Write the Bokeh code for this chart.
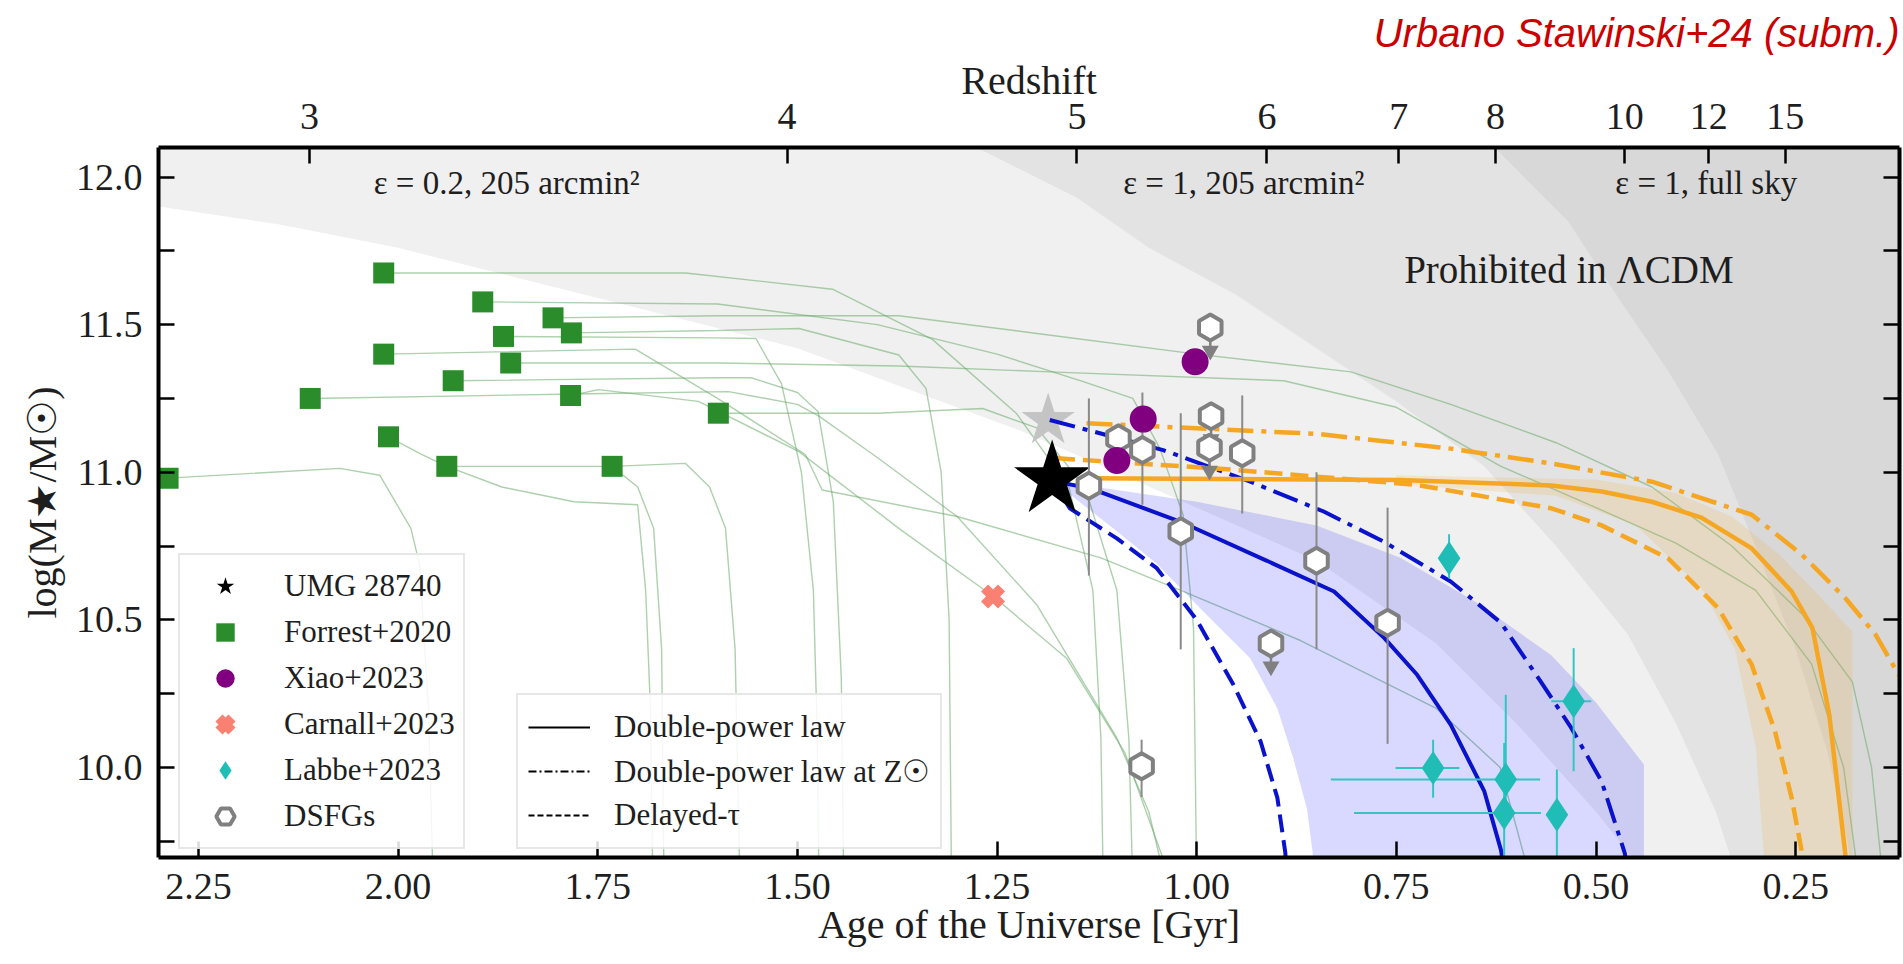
import math
from bokeh.plotting import figure
from bokeh.models import (Range1d, LinearAxis, FixedTicker, NumeralTickFormatter,
                          CustomJSTickFormatter, Legend, LegendItem, Label, Title)
from bokeh.embed import file_html
from bokeh.resources import INLINE

SERIF = "Liberation Serif"
TXT = "#1e1e1e"

# ---------------- axis / tick data ----------------
age_ticks = [2.25, 2.0, 1.75, 1.5, 1.25, 1.0, 0.75, 0.5, 0.25]
logm_ticks = [10.0, 10.5, 11.0, 11.5, 12.0]
logm_minor = [9.75, 10.25, 10.75, 11.25, 11.75]
redshift_tick_ages = [2.111, 1.513, 1.150, 0.912, 0.747, 0.626, 0.464, 0.359, 0.263]
redshift_tick_labels = ["3", "4", "5", "6", "7", "8", "10", "12", "15"]

# ---------------- "prohibited" regions (lower boundaries) ----------------
eps02_age = [2.36, 2.30, 2.15, 2.00, 1.75, 1.50, 1.33, 1.22, 1.10, 1.00, 0.85, 0.70, 0.60, 0.50, 0.45, 0.42]
eps02_logm = [11.93, 11.90, 11.84, 11.76, 11.59, 11.42, 11.25, 11.14, 11.00, 10.88, 10.70, 10.42, 10.15, 9.85, 9.68, 9.60]
eps1_age = [1.40, 1.283, 1.15, 1.06, 0.95, 0.85, 0.75, 0.64, 0.55, 0.46, 0.40, 0.35, 0.32]
eps1_logm = [12.30, 12.11, 11.93, 11.76, 11.60, 11.42, 11.24, 11.02, 10.75, 10.45, 10.15, 9.85, 9.60]
sky_age = [0.70, 0.627, 0.535, 0.472, 0.409, 0.347, 0.305, 0.25, 0.21, 0.185, 0.178]
sky_logm = [12.30, 12.10, 11.85, 11.59, 11.34, 11.06, 10.78, 10.40, 10.05, 9.75, 9.60]

# ---------------- Forrest+2020 ----------------
forrest_age = [2.288, 2.018, 2.018, 2.110, 2.012, 1.894, 1.868, 1.859, 1.931, 1.806, 1.783, 1.784, 1.939, 1.732, 1.599]
forrest_logm = [10.98, 11.675, 11.40, 11.25, 11.12, 11.577, 11.46, 11.37, 11.31, 11.523, 11.472, 11.26, 11.02, 11.02, 11.20]
forrest_track_age = [
    [2.288, 2.073, 2.023, 1.984, 1.973, 1.962, 1.956],
    [2.018, 1.64, 1.456, 1.331, 1.226, 1.16, 1.13, 1.12, 1.117],
    [2.018, 1.703, 1.60, 1.49, 1.469, 1.30, 1.12, 1.02, 0.87, 0.70, 0.62, 0.58],
    [2.110, 1.78, 1.586, 1.50, 1.473, 1.40, 1.30, 1.20, 1.10, 1.06, 1.038],
    [2.012, 1.97, 1.939, 1.87, 1.78, 1.70, 1.69, 1.684, 1.681],
    [1.894, 1.60, 1.40, 1.25, 1.142, 1.08, 1.046, 1.017, 1.004, 1.0],
    [1.868, 1.60, 1.552, 1.52, 1.495, 1.480, 1.475, 1.473],
    [1.859, 1.60, 1.373, 1.184, 0.891, 0.75, 0.619, 0.50, 0.40, 0.30, 0.23, 0.19, 0.17],
    [1.931, 1.60, 1.558, 1.50, 1.474, 1.455, 1.445, 1.442],
    [1.806, 1.60, 1.373, 1.20, 1.0, 0.807, 0.682, 0.55, 0.43, 0.33, 0.242, 0.179, 0.155, 0.14],
    [1.783, 1.60, 1.498, 1.373, 1.339, 1.32, 1.31, 1.307],
    [1.784, 1.749, 1.624, 1.498, 1.373, 1.255, 1.163, 1.09, 1.03],
    [1.939, 1.732, 1.64, 1.61, 1.59, 1.578, 1.572],
    [1.732, 1.70, 1.68, 1.670, 1.667],
    [1.599, 1.40, 1.268, 1.20, 1.14, 1.10, 1.085, 1.08],
]
forrest_track_logm = [
    [10.98, 11.013, 10.99, 10.81, 10.686, 10.2, 9.6],
    [11.675, 11.675, 11.62, 11.45, 11.20, 10.95, 10.60, 10.1, 9.6],
    [11.40, 11.417, 11.25, 11.06, 10.94, 10.85, 10.71, 10.60, 10.43, 10.20, 10.0, 9.6],
    [11.25, 11.265, 11.273, 11.23, 11.19, 11.05, 10.85, 10.55, 10.10, 9.85, 9.6],
    [11.12, 11.06, 11.02, 10.95, 10.90, 10.89, 10.6, 10.2, 9.6],
    [11.577, 11.57, 11.50, 11.40, 11.307, 11.25, 11.08, 10.855, 10.472, 9.6],
    [11.46, 11.455, 11.453, 11.30, 11.0, 10.6, 10.1, 9.6],
    [11.37, 11.37, 11.36, 11.34, 11.31, 11.22, 11.02, 10.88, 10.76, 10.60, 10.35, 10.0, 9.6],
    [11.31, 11.32, 11.32, 11.27, 11.205, 10.9, 10.3, 9.6],
    [11.523, 11.53, 11.53, 11.47, 11.40, 11.34, 11.23, 11.10, 10.95, 10.75, 10.52, 10.29, 10.0, 9.6],
    [11.472, 11.48, 11.487, 11.397, 11.284, 11.0, 10.5, 9.6],
    [11.26, 11.28, 11.24, 11.07, 10.81, 10.58, 10.37, 10.05, 9.6],
    [11.02, 11.02, 11.03, 10.95, 10.81, 10.4, 9.6],
    [11.02, 10.95, 10.81, 10.4, 9.6],
    [11.20, 11.20, 11.216, 11.15, 10.95, 10.6, 10.1, 9.6],
]

# ---------------- other samples ----------------
xiao_age = [1.002, 1.067, 1.100]
xiao_logm = [11.374, 11.18, 11.04]
carnall_age = [1.255]
carnall_logm = [10.579]
umg_age = [1.181]
umg_logm = [10.975]
umg_alt_age = [1.186]
umg_alt_logm = [11.175]

labbe_age = [0.684, 0.704, 0.613, 0.615, 0.549, 0.528]
labbe_logm = [10.709, 9.998, 9.959, 9.846, 9.840, 10.224]
labbe_age_lo = [None, 0.671, 0.570, 0.569, None, 0.506]
labbe_age_hi = [None, 0.751, 0.832, 0.803, None, 0.556]
labbe_logm_lo = [10.64, 9.897, 9.85, 9.55, 9.55, 9.987]
labbe_logm_hi = [10.79, 10.094, 10.246, 10.083, 9.993, 10.404]

dsfg_age = [0.983, 1.098, 1.068, 0.982, 0.984, 0.943, 1.135, 1.020, 0.850, 0.761, 0.907, 1.069]
dsfg_logm = [11.49, 11.115, 11.075, 11.19, 11.083, 11.064, 10.954, 10.80, 10.70, 10.49, 10.42, 10.004]
dsfg_logm_lo = [None, None, 10.89, None, None, 10.86, 10.65, 10.40, 10.40, 10.08, None, 9.90]
dsfg_logm_hi = [None, None, 11.27, None, None, 11.26, 11.25, 11.20, 11.00, 10.88, None, 10.094]
dsfg_upper_limit = [True, False, False, True, True, False, False, False, False, False, True, False]

# ---------------- UMG 28740 mass assembly (blue) ----------------
dpl_age = [1.18, 1.134, 1.021, 0.912, 0.828, 0.765, 0.724, 0.682, 0.640, 0.619, 0.612]
dpl_logm = [10.97, 10.946, 10.833, 10.70, 10.596, 10.438, 10.314, 10.145, 9.92, 9.72, 9.60]
dpl_zsun_age = [1.184, 1.042, 0.933, 0.841, 0.766, 0.682, 0.619, 0.569, 0.531, 0.493, 0.464, 0.458]
dpl_zsun_logm = [11.177, 11.075, 10.968, 10.867, 10.765, 10.63, 10.49, 10.29, 10.134, 9.953, 9.71, 9.60]
delayed_age = [1.18, 1.159, 1.100, 1.050, 1.00, 0.954, 0.920, 0.899, 0.889, 0.887]
delayed_logm = [10.97, 10.878, 10.776, 10.675, 10.50, 10.28, 10.088, 9.897, 9.71, 9.60]
band_upper_age = [1.18, 1.10, 1.00, 0.85, 0.745, 0.65, 0.556, 0.50, 0.44, 0.44]
band_upper_logm = [10.97, 10.94, 10.90, 10.82, 10.71, 10.56, 10.38, 10.22, 10.01, 9.60]
band_lower_age = [1.18, 1.10, 1.05, 0.996, 0.933, 0.899, 0.879, 0.862, 0.855, 0.853]
band_lower_logm = [10.97, 10.80, 10.69, 10.54, 10.37, 10.20, 10.03, 9.86, 9.715, 9.60]

# ---------------- orange models ----------------
o_dpl_age = [1.134, 0.745, 0.556, 0.493, 0.43, 0.368, 0.305, 0.255, 0.229, 0.208, 0.188, 0.186]
o_dpl_logm = [10.98, 10.974, 10.955, 10.935, 10.90, 10.846, 10.742, 10.596, 10.472, 10.18, 9.71, 9.60]
o_zsun_age = [1.138, 0.849, 0.682, 0.556, 0.430, 0.305, 0.242, 0.188, 0.150, 0.118]
o_zsun_logm = [11.166, 11.13, 11.08, 11.03, 10.968, 10.856, 10.72, 10.574, 10.45, 10.30]
o_delayed_age = [1.175, 0.975, 0.724, 0.556, 0.493, 0.41, 0.347, 0.305, 0.276, 0.255, 0.242, 0.240]
o_delayed_logm = [11.047, 11.013, 10.957, 10.878, 10.82, 10.709, 10.54, 10.348, 10.123, 9.897, 9.71, 9.60]
tan_upper_age = [0.75, 0.50, 0.40, 0.33, 0.27, 0.22, 0.179, 0.179]
tan_upper_logm = [10.99, 10.975, 10.93, 10.85, 10.72, 10.58, 10.46, 9.60]
tan_lower_age = [0.75, 0.55, 0.45, 0.368, 0.326, 0.30, 0.29, 0.29]
tan_lower_logm = [10.96, 10.92, 10.82, 10.607, 10.40, 10.07, 9.71, 9.60]

# ---------------- figure ----------------
p = figure(width=1903, height=964,
           x_range=Range1d(2.30, 0.12), y_range=Range1d(9.695, 12.10),
           output_backend="svg", toolbar_location=None,
           x_axis_location=None, y_axis_location=None,
           min_border_left=158, min_border_right=4, min_border_top=147, min_border_bottom=107)
p.grid.visible = False
p.outline_line_color = None
p.background_fill_color = "white"
p.border_fill_color = "white"

X_OUT, Y_HI = -0.2, 12.5


def region(ages, logms, color):
    xs = list(ages) + [X_OUT, X_OUT]
    ys = list(logms) + [logms[-1], Y_HI]
    xs.append(ages[0])
    ys.append(Y_HI)
    p.patch(xs, ys, fill_color=color, line_color=None)


region(eps02_age, eps02_logm, "#f0f0f0")
region(eps1_age, eps1_logm, "#e3e3e3")
region(sky_age, sky_logm, "#d8d8d8")

# green mass-assembly tracks
p.multi_line(forrest_track_age, forrest_track_logm, line_color="#6aaa6a", line_alpha=0.55, line_width=1.4)

# uncertainty bands
p.patch(band_upper_age + band_lower_age[::-1], band_upper_logm + band_lower_logm[::-1],
        fill_color="#0000ff", fill_alpha=0.15, line_color=None)
p.patch(tan_upper_age + tan_lower_age[::-1], tan_upper_logm + tan_lower_logm[::-1],
        fill_color="#f5a623", fill_alpha=0.16, line_color=None)

# gray star
p.scatter(umg_alt_age, umg_alt_logm, marker="star", size=56, fill_color="#c4c4c4", line_color=None)

BLUE = "#0a12cc"
ORANGE = "#f5a623"
DASH = "18 8"
DASHDOT = "26 8 5 8"
p.line(dpl_age, dpl_logm, line_color=BLUE, line_width=4)
p.line(dpl_zsun_age, dpl_zsun_logm, line_color=BLUE, line_width=4, line_dash=DASHDOT)
p.line(delayed_age, delayed_logm, line_color=BLUE, line_width=4, line_dash=DASH)
p.line(o_dpl_age, o_dpl_logm, line_color=ORANGE, line_width=4.5)
p.line(o_zsun_age, o_zsun_logm, line_color=ORANGE, line_width=4.5, line_dash=DASHDOT)
p.line(o_delayed_age, o_delayed_logm, line_color=ORANGE, line_width=4.5, line_dash=DASH)

# legend proxies (black, hidden)
pr_solid = p.line(dpl_age, dpl_logm, line_color="black", line_width=2, visible=False)
pr_dd = p.line(dpl_age, dpl_logm, line_color="black", line_width=2, line_dash="8 3 2 3", visible=False)
pr_dash = p.line(dpl_age, dpl_logm, line_color="black", line_width=2, line_dash="6 3", visible=False)

r_umg = p.scatter(umg_age, umg_logm, marker="star", size=80, fill_color="black", line_color=None)
r_forrest = p.scatter(forrest_age, forrest_logm, marker="square", size=21, fill_color="#2b8c2b", line_color=None)

# DSFG error bars and upper limits
ex, ey0, ey1 = [], [], []
for a, lo, hi in zip(dsfg_age, dsfg_logm_lo, dsfg_logm_hi):
    if lo is not None:
        ex.append(a); ey0.append(lo); ey1.append(hi)
p.segment(ex, ey0, ex, ey1, line_color="#8a8a8a", line_width=2)
ul_age = [a for a, u in zip(dsfg_age, dsfg_upper_limit) if u]
ul_logm = [m for m, u in zip(dsfg_logm, dsfg_upper_limit) if u]
p.segment(ul_age, [m - 0.03 for m in ul_logm], ul_age, [m - 0.07 for m in ul_logm], line_color="#808080", line_width=2.5)
p.scatter(ul_age, [m - 0.078 for m in ul_logm], marker="inverted_triangle", size=17, fill_color="#808080", line_color=None)
r_dsfg = p.scatter(dsfg_age, dsfg_logm, marker="hex", angle=math.pi / 6, size=26,
                   fill_color="white", line_color="#808080", line_width=4)

r_xiao = p.scatter(xiao_age, xiao_logm, marker="circle", size=27, fill_color="#800080", line_color=None)
r_carnall = p.scatter(carnall_age, carnall_logm, marker="x", size=24, line_color="#fa8072", line_width=10)

# Labbe error bars
CYAN = "#1fbdb5"
lx0, lx1, lxy = [], [], []
for a, lo, hi, m in zip(labbe_age, labbe_age_lo, labbe_age_hi, labbe_logm):
    if lo is not None:
        lx0.append(lo); lx1.append(hi); lxy.append(m)
p.segment(lx0, lxy, lx1, lxy, line_color="#35c4c4", line_width=2)
p.segment(labbe_age, labbe_logm_lo, labbe_age, labbe_logm_hi, line_color="#35c4c4", line_width=2)
r_labbe = p.scatter(labbe_age, labbe_logm, marker="diamond", size=34, fill_color=CYAN, line_color=None)

# ---------------- axes ----------------

def style_axis(ax, label_size="38px"):
    ax.axis_line_color = "black"
    ax.axis_line_width = 4
    ax.major_tick_in = 16
    ax.major_tick_out = 0
    ax.minor_tick_in = 16
    ax.minor_tick_out = 0
    ax.major_tick_line_width = 2.5
    ax.minor_tick_line_width = 2.5
    ax.major_tick_line_color = "black"
    ax.minor_tick_line_color = "black"
    ax.major_label_text_font = SERIF
    ax.major_label_text_font_size = label_size
    ax.major_label_text_color = TXT
    ax.axis_label_text_font = SERIF
    ax.axis_label_text_font_size = "40px"
    ax.axis_label_text_font_style = "normal"
    ax.axis_label_text_color = TXT


xb = LinearAxis(ticker=FixedTicker(ticks=age_ticks, minor_ticks=[]),
                formatter=NumeralTickFormatter(format="0.00"),
                axis_label="Age of the Universe [Gyr]")
style_axis(xb)
xb.major_label_standoff = 16
xb.axis_label_standoff = 0
p.add_layout(xb, "below")

yl = LinearAxis(ticker=FixedTicker(ticks=logm_ticks, minor_ticks=logm_minor),
                formatter=NumeralTickFormatter(format="0.0"),
                axis_label="log(M★/M☉)")
style_axis(yl)
yl.major_label_standoff = 16
yl.axis_label_standoff = 8
p.add_layout(yl, "left")

z_formatter = CustomJSTickFormatter(args=dict(ages=redshift_tick_ages, labels=redshift_tick_labels), code="""
    let best = '';
    let d = 1e9;
    for (let i = 0; i < ages.length; i++) {
        const e = Math.abs(ages[i] - tick);
        if (e < d) { d = e; best = labels[i]; }
    }
    return best;
""")
xt = LinearAxis(ticker=FixedTicker(ticks=redshift_tick_ages, minor_ticks=[]),
                formatter=z_formatter, axis_label="Redshift")
style_axis(xt)
xt.major_label_standoff = 19
xt.axis_label_standoff = -2
p.add_layout(xt, "above")

yr = LinearAxis(ticker=FixedTicker(ticks=logm_ticks, minor_ticks=logm_minor),
                formatter=CustomJSTickFormatter(code="return '';"))
style_axis(yr, label_size="1px")
yr.major_label_standoff = 0
p.add_layout(yr, "right")

credit = Title(text="Urbano Stawinski+24 (subm.)", align="right", text_font="Liberation Sans",
               text_font_style="italic", text_font_size="40px", text_color="#cc0000", standoff=0)
p.add_layout(credit, "above")

# ---------------- annotations ----------------
for x, text in [(1.864, "ε = 0.2, 205 arcmin²"), (0.941, "ε = 1, 205 arcmin²"), (0.362, "ε = 1, full sky")]:
    p.add_layout(Label(x=x, y=11.98, text=text, text_align="center", text_baseline="middle",
                       text_font=SERIF, text_font_size="33px", text_color=TXT))
p.add_layout(Label(x=0.534, y=11.687, text="Prohibited in ΛCDM", text_align="center", text_baseline="middle",
                   text_font=SERIF, text_font_size="39px", text_color=TXT))

# ---------------- legends ----------------
leg1 = Legend(items=[
    LegendItem(label="UMG 28740", renderers=[r_umg]),
    LegendItem(label="Forrest+2020", renderers=[r_forrest]),
    LegendItem(label="Xiao+2023", renderers=[r_xiao]),
    LegendItem(label="Carnall+2023", renderers=[r_carnall]),
    LegendItem(label="Labbe+2023", renderers=[r_labbe]),
    LegendItem(label="DSFGs", renderers=[r_dsfg]),
], location=(20, 8), glyph_width=74, glyph_height=46, spacing=0, padding=8, label_standoff=22,
    label_text_font=SERIF, label_text_font_size="31px", label_text_color=TXT,
    border_line_color="#d0d0d0", border_line_width=2, background_fill_color="white", background_fill_alpha=0.85)
p.add_layout(leg1)

leg2 = Legend(items=[
    LegendItem(label="Double-power law", renderers=[pr_solid]),
    LegendItem(label="Double-power law at Z☉", renderers=[pr_dd]),
    LegendItem(label="Delayed-τ", renderers=[pr_dash]),
], location=(358, 8), glyph_width=62, glyph_height=44, spacing=0, padding=10, label_standoff=24,
    label_text_font=SERIF, label_text_font_size="31px", label_text_color=TXT,
    border_line_color="#d0d0d0", border_line_width=2, background_fill_color="white", background_fill_alpha=0.85)
p.add_layout(leg2)

open("out.html", "w").write(file_html(p, INLINE))
